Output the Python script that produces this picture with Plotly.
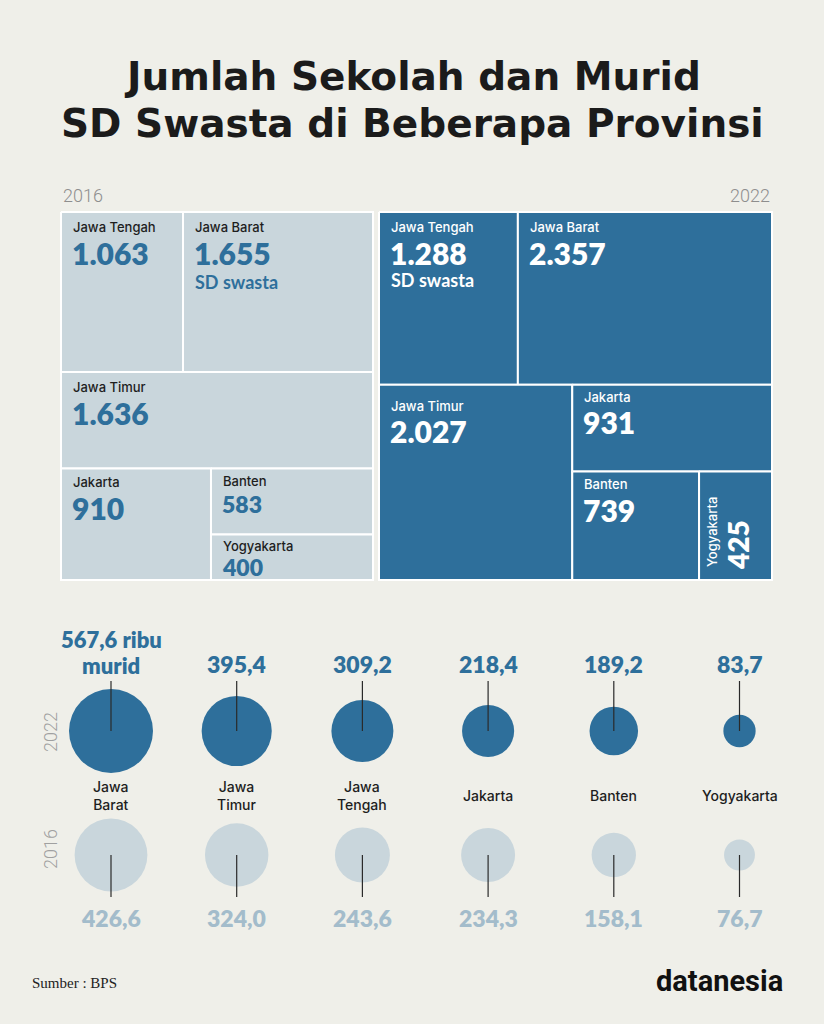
import math
import plotly.graph_objects as go

# ---------------- data ----------------
tree_provinces = ["Jawa Tengah", "Jawa Barat", "Jawa Timur", "Jakarta", "Banten", "Yogyakarta"]
schools_2016 = [1063, 1655, 1636, 910, 583, 400]
schools_2022 = [1288, 2357, 2027, 931, 739, 425]

bubble_provinces = ["Jawa<br>Barat", "Jawa<br>Timur", "Jawa<br>Tengah", "Jakarta", "Banten", "Yogyakarta"]
students_2022 = [567.6, 395.4, 309.2, 218.4, 189.2, 83.7]
students_2016 = [426.6, 324.0, 243.6, 234.3, 158.1, 76.7]

title_lines = ["Jumlah Sekolah dan Murid", "SD Swasta di Beberapa Provinsi"]
source_text = "Sumber : BPS"
brand_text = "datanesia"

# ---------------- styles / layout ----------------
W, H = 824, 1024
BG = "#efefe9"
BLUE = "#2e6f9b"
LIGHT = "#c9d6dc"
LIGHT_TEXT = "#a3bccb"
DARK = "#1e1e1e"
GREY = "#8e8e8e"

# tiling structure: 'v' stacks children top-to-bottom, 'h' places them left-to-right
tiling_2016 = ("v", [("h", [0, 1]), 2, ("h", [3, ("v", [4, 5])])])
tiling_2022 = ("v", [("h", [0, 1]), ("h", [2, ("v", [3, ("h", [4, 5])])])])
box_2016 = (61, 212, 373, 580)
box_2022 = (379, 212, 772, 580)

# per-cell label offsets: (name_dy, value_dy, value_size)
lab_2016 = [(15, 41, 30), (15, 41, 30), (15, 41, 30), (14, 40, 30), (13, 36, 23), (11, 32, 23)]
lab_2022 = [(15, 41, 30), (15, 41, 30), (21, 46, 30), (12, 37, 30), (13, 39, 30), None]

NAME_FONT = "Inter, Noto Sans, sans-serif"
NUM_FONT = "Lato, Noto Sans, sans-serif"


def total(node, vals):
    if isinstance(node, int):
        return vals[node]
    return sum(total(k, vals) for k in node[1])


def tile(node, vals, x0, y0, x1, y1, out):
    if isinstance(node, int):
        out[node] = (x0, y0, x1, y1)
        return
    d, kids = node
    T = total(node, vals)
    pos = x0 if d == "h" else y0
    for k in kids:
        frac = total(k, vals) / T
        if d == "h":
            w = frac * (x1 - x0)
            tile(k, vals, pos, y0, pos + w, y1, out)
            pos += w
        else:
            h = frac * (y1 - y0)
            tile(k, vals, x0, pos, x1, pos + h, out)
            pos += h


def fmt_int(v):
    return f"{v:,}".replace(",", ".")


def fmt_dec(v):
    return f"{v:.1f}".replace(".", ",")


fig = go.Figure()
ann = []

# ---------------- treemaps ----------------
for vals, tiling, box, fill, name_col, val_col, labs, sub_dy, note_idx in [
    (schools_2016, tiling_2016, box_2016, LIGHT, DARK, BLUE, lab_2016, 70, 1),
    (schools_2022, tiling_2022, box_2022, BLUE, "white", "white", lab_2022, 68, 0),
]:
    rects = {}
    tile(tiling, vals, *box, rects)
    for i, name in enumerate(tree_provinces):
        x0, y0, x1, y1 = rects[i]
        fig.add_trace(go.Scatter(
            x=[x0, x1, x1, x0, x0], y=[y0, y0, y1, y1, y0],
            mode="lines", fill="toself", fillcolor=fill,
            line=dict(color="white", width=2), hoverinfo="skip", showlegend=False))
        lab = labs[i]
        if lab is None:
            # narrow cell: rotated label
            ann.append(dict(x=x0 + 13, y=y1 - 48, text=name, textangle=-90,
                            font=dict(family=NAME_FONT, size=13, color=name_col, weight=500),
                            xanchor="center", yanchor="middle", showarrow=False))
            ann.append(dict(x=x0 + 39, y=y1 - 35, text=fmt_int(vals[i]), textangle=-90,
                            font=dict(family=NUM_FONT, size=28, color=val_col, weight=800),
                            xanchor="center", yanchor="middle", showarrow=False))
            continue
        ndy, vdy, vsize = lab
        ann.append(dict(x=x0 + 10, y=y0 + ndy, text=name,
                        font=dict(family=NAME_FONT, size=13, color=name_col, weight=500),
                        xanchor="left", yanchor="middle", showarrow=False))
        ann.append(dict(x=x0 + 9, y=y0 + vdy, text=fmt_int(vals[i]),
                        font=dict(family=NUM_FONT, size=vsize, color=val_col, weight=800),
                        xanchor="left", yanchor="middle", showarrow=False))
    x0, y0, x1, y1 = rects[note_idx]
    ann.append(dict(x=x0 + 10, y=y0 + sub_dy, text="SD swasta",
                    font=dict(family=NUM_FONT, size=18, color=val_col, weight=700),
                    xanchor="left", yanchor="middle", showarrow=False))

# year labels above the treemaps
ann.append(dict(x=box_2016[0], y=195, text="2016", xanchor="left", yanchor="middle",
                font=dict(family="Roboto, sans-serif", size=18, color=GREY, weight=300), showarrow=False))
ann.append(dict(x=box_2022[2], y=195, text="2022", xanchor="right", yanchor="middle",
                font=dict(family="Roboto, sans-serif", size=18, color=GREY, weight=300), showarrow=False))

# ---------------- bubbles ----------------
BUB_X0, BUB_STEP = 111, 125.7
Y22, Y16 = 731, 855
MAX_D = 84
vmax = max(students_2022 + students_2016)
xs = [BUB_X0 + i * BUB_STEP for i in range(len(bubble_provinces))]


def diam(v):
    return MAX_D * math.sqrt(v / vmax)


fig.add_trace(go.Scatter(x=xs, y=[Y22] * len(xs), mode="markers",
                         marker=dict(size=[diam(v) for v in students_2022], sizemode="diameter",
                                     color=BLUE, opacity=1, line=dict(width=0)),
                         hoverinfo="skip", showlegend=False))
fig.add_trace(go.Scatter(x=xs, y=[Y16] * len(xs), mode="markers",
                         marker=dict(size=[diam(v) for v in students_2016], sizemode="diameter",
                                     color=LIGHT, opacity=1, line=dict(width=0)),
                         hoverinfo="skip", showlegend=False))

lx, ly = [], []
for x in xs:
    lx += [x, x, None, x, x, None]
    ly += [681, Y22, None, Y16, 897, None]
fig.add_trace(go.Scatter(x=lx, y=ly, mode="lines", line=dict(color="#2a2a2a", width=1.2),
                         hoverinfo="skip", showlegend=False))

for i, x in enumerate(xs):
    if i == 0:
        ann.append(dict(x=x, y=639, text=fmt_dec(students_2022[i]) + " ribu",
                        font=dict(family=NUM_FONT, size=22, color=BLUE, weight=800),
                        xanchor="center", yanchor="middle", showarrow=False))
        ann.append(dict(x=x, y=665, text="murid",
                        font=dict(family=NUM_FONT, size=22, color=BLUE, weight=800),
                        xanchor="center", yanchor="middle", showarrow=False))
    else:
        ann.append(dict(x=x, y=664, text=fmt_dec(students_2022[i]),
                        font=dict(family=NUM_FONT, size=23, color=BLUE, weight=800),
                        xanchor="center", yanchor="middle", showarrow=False))
    ann.append(dict(x=x, y=795, text=bubble_provinces[i],
                    font=dict(family=NAME_FONT, size=14, color=DARK, weight=500),
                    xanchor="center", yanchor="middle", showarrow=False))
    ann.append(dict(x=x, y=918, text=fmt_dec(students_2016[i]),
                    font=dict(family=NUM_FONT, size=23, color=LIGHT_TEXT, weight=800),
                    xanchor="center", yanchor="middle", showarrow=False))

ann.append(dict(x=50, y=732, text="2022", textangle=-90, xanchor="center", yanchor="middle",
                font=dict(family="Roboto, sans-serif", size=18, color="#a0a0a0", weight=300), showarrow=False))
ann.append(dict(x=50, y=849, text="2016", textangle=-90, xanchor="center", yanchor="middle",
                font=dict(family="Roboto, sans-serif", size=18, color="#a0a0a0", weight=300), showarrow=False))

# ---------------- title & footer ----------------
for t, y in zip(title_lines, [76, 123]):
    ann.append(dict(x=W / 2, y=y, text=t, xanchor="center", yanchor="middle",
                    font=dict(family="DejaVu Sans, sans-serif", size=39, color="#1b1b1b", weight=700),
                    showarrow=False))
ann.append(dict(x=30, y=983, text=source_text, xanchor="left", yanchor="middle",
                font=dict(family="Liberation Serif, serif", size=15, color="#222222"), showarrow=False))
ann.append(dict(x=785, y=981, text=brand_text, xanchor="right", yanchor="middle",
                font=dict(family="Roboto, sans-serif", size=29, color="#111111", weight=700),
                showarrow=False))

fig.update_layout(
    width=W, height=H, margin=dict(l=0, r=0, t=0, b=0),
    paper_bgcolor=BG, plot_bgcolor=BG,
    xaxis=dict(range=[0, W], visible=False, fixedrange=True, domain=[0, 1]),
    yaxis=dict(range=[H, 0], visible=False, fixedrange=True, domain=[0, 1]),
    annotations=ann, showlegend=False,
)
fig.write_html("out.html")
